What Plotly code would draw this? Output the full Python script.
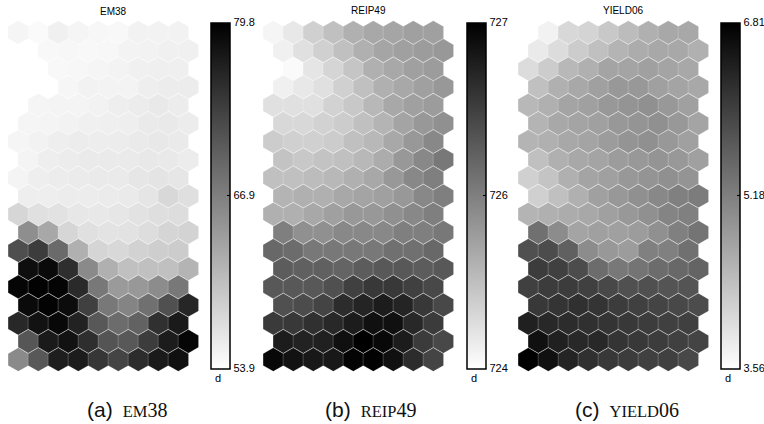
import plotly.graph_objects as go

# ---------------- data (SOM component planes, 19 rows x 9 columns, top row first) -------------
em38 = [
    [54.9, 54.4, 55.4, 54.9, 54.7, 54.6, 55.2, 55.2, 55.2],
    [53.9, 54.6, 54.7, 54.6, 54.7, 55.1, 55.2, 55.4, 55.4],
    [53.9, 53.9, 54.6, 54.7, 54.9, 55.1, 55.4, 55.5, 55.5],
    [53.9, 53.9, 54.8, 55.2, 55.1, 55.1, 55.6, 55.8, 55.8],
    [53.9, 54.9, 55.0, 55.0, 55.2, 55.6, 55.8, 56.1, 55.8],
    [54.9, 55.0, 55.2, 55.4, 55.5, 55.6, 56.0, 56.1, 55.8],
    [54.9, 55.2, 55.6, 55.8, 55.7, 55.8, 56.0, 56.2, 56.0],
    [55.0, 55.6, 55.8, 56.0, 56.0, 56.0, 56.2, 56.1, 55.8],
    [55.0, 55.6, 55.8, 55.9, 56.0, 56.0, 56.4, 56.6, 56.4],
    [55.6, 55.6, 55.8, 55.8, 55.9, 56.0, 56.5, 57.9, 57.1],
    [58.1, 57.0, 56.8, 56.3, 56.2, 56.4, 56.8, 57.3, 57.4],
    [65.4, 62.7, 58.1, 57.0, 56.7, 56.8, 57.4, 58.2, 58.4],
    [71.9, 73.7, 69.0, 61.9, 58.2, 57.9, 58.5, 58.9, 59.1],
    [78.4, 78.8, 75.1, 65.8, 61.9, 60.3, 60.3, 60.3, 61.5],
    [79.3, 79.6, 79.4, 75.5, 67.6, 64.2, 64.4, 65.6, 67.6],
    [78.8, 79.5, 78.6, 73.3, 67.6, 66.4, 68.4, 71.7, 75.9],
    [75.7, 78.0, 79.0, 76.3, 70.9, 68.8, 69.8, 74.9, 77.2],
    [71.1, 77.2, 78.0, 75.1, 71.3, 70.9, 73.7, 77.0, 79.2],
    [65.8, 70.9, 76.8, 77.0, 74.3, 72.9, 75.3, 77.2, 78.2],
]

reip49 = [
    [724.49, 724.62, 724.84, 724.99, 725.14, 725.22, 725.25, 725.29, 725.29],
    [724.54, 724.69, 724.84, 724.99, 725.14, 725.25, 725.29, 725.33, 725.37],
    [724.40, 724.45, 724.64, 724.80, 724.95, 725.14, 725.22, 725.29, 725.33],
    [724.54, 724.62, 724.69, 724.84, 724.99, 725.14, 725.22, 725.29, 725.37],
    [724.69, 724.69, 724.69, 724.82, 724.92, 725.07, 725.22, 725.29, 725.33],
    [724.77, 724.77, 724.82, 724.88, 724.99, 725.11, 725.26, 725.37, 725.44],
    [724.88, 724.84, 724.84, 724.88, 724.99, 725.07, 725.22, 725.37, 725.52],
    [724.96, 724.92, 724.96, 724.99, 725.07, 725.18, 725.37, 725.52, 725.67],
    [724.99, 724.99, 725.03, 725.07, 725.14, 725.22, 725.37, 725.52, 725.60],
    [725.11, 725.14, 725.14, 725.22, 725.26, 725.29, 725.37, 725.52, 725.60],
    [725.14, 725.14, 725.22, 725.29, 725.37, 725.37, 725.44, 725.52, 725.60],
    [725.60, 725.44, 725.44, 725.52, 725.52, 725.52, 725.60, 725.60, 725.67],
    [725.82, 725.78, 725.67, 725.67, 725.67, 725.67, 725.75, 725.75, 725.82],
    [725.93, 725.90, 725.90, 725.86, 725.93, 725.97, 725.97, 725.93, 725.97],
    [725.97, 725.97, 725.97, 726.05, 726.20, 726.27, 726.27, 726.20, 726.12],
    [726.05, 726.08, 726.16, 726.39, 726.46, 726.54, 726.46, 726.27, 726.12],
    [726.25, 726.27, 726.35, 726.42, 726.54, 726.65, 726.65, 726.42, 726.24],
    [726.54, 726.48, 726.50, 726.65, 726.80, 726.72, 726.54, 726.24, 726.12],
    [726.72, 726.63, 726.57, 726.57, 726.76, 726.78, 726.65, 726.39, 726.16],
]

yield06 = [
    [3.56, 3.73, 4.06, 4.11, 4.26, 4.41, 4.57, 4.67, 4.67],
    [3.83, 4.01, 4.21, 4.36, 4.52, 4.62, 4.67, 4.67, 4.57],
    [4.01, 4.21, 4.46, 4.57, 4.72, 4.72, 4.77, 4.72, 4.67],
    [4.36, 4.57, 4.67, 4.77, 4.87, 4.87, 4.77, 4.72, 4.67],
    [4.46, 4.57, 4.72, 4.77, 4.87, 4.92, 4.97, 4.87, 4.77],
    [4.52, 4.67, 4.72, 4.77, 4.87, 4.92, 4.97, 4.87, 4.72],
    [4.52, 4.57, 4.67, 4.72, 4.82, 4.92, 4.97, 4.87, 4.77],
    [4.36, 4.57, 4.67, 4.72, 4.82, 4.87, 4.92, 4.87, 4.77],
    [4.16, 4.31, 4.57, 4.72, 4.77, 4.87, 4.92, 4.97, 4.92],
    [4.16, 4.36, 4.57, 4.77, 4.87, 4.97, 5.08, 5.18, 5.23],
    [4.52, 4.57, 4.62, 4.67, 4.77, 4.87, 4.97, 5.13, 5.18],
    [5.38, 5.03, 4.72, 4.77, 4.77, 4.82, 4.97, 5.18, 5.33],
    [5.79, 5.84, 5.59, 5.03, 4.87, 4.82, 5.18, 5.18, 5.38],
    [6.05, 5.99, 5.84, 5.43, 5.28, 5.33, 5.43, 5.48, 5.54],
    [5.99, 6.05, 6.05, 5.99, 5.89, 5.79, 5.79, 5.74, 5.74],
    [6.10, 6.15, 6.20, 6.15, 6.05, 5.99, 5.94, 5.89, 5.84],
    [6.40, 6.30, 6.25, 6.20, 6.15, 6.10, 6.05, 5.99, 5.99],
    [6.61, 6.40, 6.30, 6.30, 6.15, 6.10, 6.05, 5.99, 5.94],
    [6.81, 6.61, 6.35, 6.20, 6.10, 6.05, 5.99, 5.99, 5.89],
]

titles = ["EM38", "REIP49", "YIELD06"]
caption_tags = ["(a)", "(b)", "(c)"]
caption_words = ["EM", "REIP", "YIELD"]
caption_digits = ["38", "49", "06"]

em38_range = [53.9, 79.8]
reip49_range = [724.4, 726.8]
yield06_range = [3.56, 6.81]

em38_ticks = ["53.9", "66.9", "79.8"]
reip49_ticks = ["724", "726", "727"]
yield06_ticks = ["3.56", "5.18", "6.81"]

# ---------------- layout / style constants ----------------
W, H = 764, 424
panel_left_px = [0, 255, 510]
panel_w_px = 200
first_center_px = 18.3
col_px = 20.0
grid_top_px, grid_bot_px = 20, 372
row0_px = 32.5
row_px = 18.17
cbar_left_px = [211, 467, 720.5]
cbar_top_px, cbar_bot_px = 22.5, 368.3
title_y_px = [12, 10, 10]
caption_cx_px = [127, 370, 627]

panels = [
    (em38, em38_range, em38_ticks),
    (reip49, reip49_range, reip49_ticks),
    (yield06, yield06_range, yield06_ticks),
]

fig = go.Figure()
annotations = []
for i, (grid, rng, ticks) in enumerate(panels):
    xs, ys, vals = [], [], []
    for r, row in enumerate(grid):
        for c, v in enumerate(row):
            xs.append(c + 0.5 * (r % 2))
            ys.append(r)
            vals.append(v)
    xa = "x" if i == 0 else f"x{i+1}"
    ya = "y" if i == 0 else f"y{i+1}"
    mid = (rng[0] + rng[1]) / 2
    fig.add_trace(go.Scatter(
        x=xs, y=ys, xaxis=xa, yaxis=ya, mode="markers", hoverinfo="skip",
        marker=dict(
            symbol="hexagon", size=23.6, color=vals,
            cmin=rng[0], cmax=rng[1],
            colorscale=[[0, "#ffffff"], [1, "#000000"]],
            line=dict(width=0.6, color="rgba(255,255,255,0.3)"),
            colorbar=dict(
                x=cbar_left_px[i] / W, xanchor="left", xpad=0, ypad=0,
                y=1 - cbar_top_px / H, yanchor="top",
                len=(cbar_bot_px - cbar_top_px) / H, lenmode="fraction",
                thickness=19, outlinewidth=1.5, outlinecolor="black",
                tickvals=[rng[0], mid, rng[1]], ticktext=ticks,
                ticks="inside", ticklen=3, tickcolor="black", tickwidth=1,
                tickfont=dict(family="Liberation Sans Narrow, Liberation Sans, Arial", size=11, color="black"),
            ),
        ),
        showlegend=False,
    ))
    x0 = panel_left_px[i]
    xr = [-first_center_px / col_px, (panel_w_px - first_center_px) / col_px]
    yr = [(grid_bot_px - row0_px) / row_px, (grid_top_px - row0_px) / row_px]
    xkey = "xaxis" if i == 0 else f"xaxis{i+1}"
    ykey = "yaxis" if i == 0 else f"yaxis{i+1}"
    fig.update_layout(**{
        xkey: dict(domain=[x0 / W, (x0 + panel_w_px) / W], range=xr, visible=False,
                   anchor=ya, fixedrange=True),
        ykey: dict(domain=[1 - grid_bot_px / H, 1 - grid_top_px / H], range=yr, visible=False,
                   anchor=xa, fixedrange=True),
    })
    annotations.append(dict(
        x=(x0 + first_center_px + 4.75 * col_px) / W, y=1 - title_y_px[i] / H,
        xref="paper", yref="paper", text=titles[i], showarrow=False,
        xanchor="center", yanchor="middle",
        font=dict(family="Liberation Sans Narrow, Liberation Sans, Arial", size=10, color="black"),
    ))
    annotations.append(dict(
        x=(cbar_left_px[i] + 7) / W, y=1 - 378 / H, xref="paper", yref="paper",
        text="d", showarrow=False, xanchor="center", yanchor="middle",
        font=dict(family="Liberation Sans, Arial", size=11, color="black"),
    ))
    annotations.append(dict(
        x=caption_cx_px[i] / W, y=1 - 409 / H, xref="paper", yref="paper",
        text=(f'<span style="font-family:Liberation Sans;font-size:21px">{caption_tags[i]}</span>&nbsp;&nbsp;'
              f'<span style="font-size:16.5px">{caption_words[i]}</span>{caption_digits[i]}'),
        showarrow=False, xanchor="center", yanchor="middle",
        font=dict(family="Liberation Serif, DejaVu Serif", size=20, color="#111111"),
    ))

fig.update_layout(
    width=W, height=H, margin=dict(l=0, r=0, t=0, b=0, autoexpand=False),
    paper_bgcolor="white", plot_bgcolor="white", annotations=annotations,
)
fig.write_html(
    "out.html",
    config={"displayModeBar": False},
    post_script="document.body.style.margin='0';document.body.style.overflow='hidden';",
)
